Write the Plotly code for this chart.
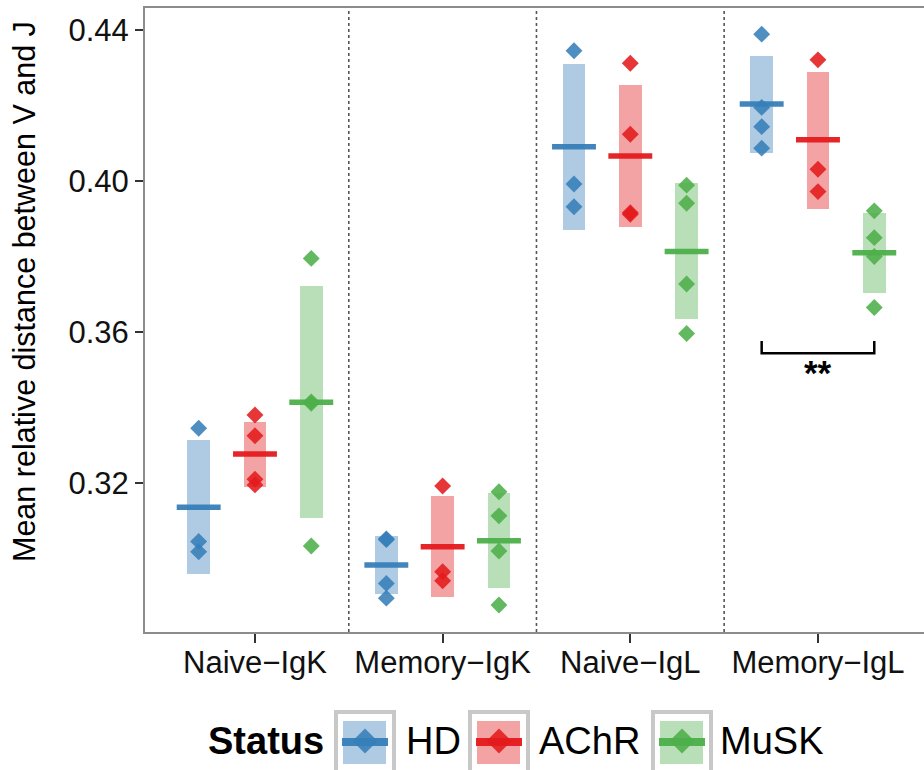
import plotly.graph_objects as go

# ---------------- data ----------------
categories = ["Naive−IgK", "Memory−IgK", "Naive−IgL", "Memory−IgL"]
statuses = ["HD", "AChR", "MuSK"]

hd_points = [
    [0.3345, 0.3045, 0.3018],
    [0.3052, 0.3050, 0.2934, 0.2895],
    [0.4345, 0.3992, 0.3932],
    [0.4389, 0.4195, 0.4144, 0.4087],
]
achr_points = [
    [0.3380, 0.3325, 0.3210, 0.3195],
    [0.3192, 0.2965, 0.2941],
    [0.4312, 0.4124, 0.3916, 0.3912],
    [0.4321, 0.4031, 0.3972],
]
musk_points = [
    [0.3795, 0.3415, 0.3411, 0.3033],
    [0.3177, 0.3113, 0.3020, 0.2877],
    [0.3989, 0.3941, 0.3727, 0.3596],
    [0.3921, 0.3850, 0.3800, 0.3665],
]

hd_mean = [0.3136, 0.2983, 0.4091, 0.4204]
hd_lo = [0.2959, 0.2905, 0.3870, 0.4075]
hd_hi = [0.3314, 0.3060, 0.4310, 0.4332]

achr_mean = [0.3277, 0.3031, 0.4066, 0.4109]
achr_lo = [0.3190, 0.2897, 0.3877, 0.3925]
achr_hi = [0.3362, 0.3166, 0.4254, 0.4290]

musk_mean = [0.3414, 0.3047, 0.3813, 0.3810]
musk_lo = [0.3106, 0.2923, 0.3634, 0.3704]
musk_hi = [0.3722, 0.3173, 0.3994, 0.3914]

y_ticks = [0.32, 0.36, 0.40, 0.44]
y_ticklabels = ["0.32", "0.36", "0.40", "0.44"]

sig_label = "**"
sig_bracket_y = 0.3544
sig_bracket_top = 0.3576
sig_text_y = 0.3493

# ---------------- styling ----------------
colors = {"HD": (55, 126, 184), "AChR": (228, 26, 28), "MuSK": (77, 175, 74)}
dodge = {"HD": -0.3, "AChR": 0.0, "MuSK": 0.3}
box_w = 0.12
mean_half = 0.117
FONT = "Liberation Sans, Arial, Helvetica, sans-serif"

def rgba(c, a):
    return "rgba(%d,%d,%d,%s)" % (c[0], c[1], c[2], a)

series = {
    "HD": (hd_points, hd_mean, hd_lo, hd_hi),
    "AChR": (achr_points, achr_mean, achr_lo, achr_hi),
    "MuSK": (musk_points, musk_mean, musk_lo, musk_hi),
}

fig = go.Figure()
cat_pos = [1, 2, 3, 4]

# boxes (mean +- sd)
for s in statuses:
    pts, mn, lo, hi = series[s]
    xs = [p + dodge[s] for p in cat_pos]
    fig.add_trace(go.Bar(
        x=xs, y=[h - l for h, l in zip(hi, lo)], base=lo, width=box_w,
        marker=dict(color=rgba(colors[s], 0.4), line=dict(width=0)),
        showlegend=False, hoverinfo="skip"))

# mean lines
for s in statuses:
    pts, mn, lo, hi = series[s]
    lx, ly = [], []
    for p, m in zip(cat_pos, mn):
        c = p + dodge[s]
        lx += [c - mean_half, c + mean_half, None]
        ly += [m, m, None]
    fig.add_trace(go.Scatter(x=lx, y=ly, mode="lines",
                             line=dict(color=rgba(colors[s], 0.95), width=5.5),
                             showlegend=False, hoverinfo="skip"))

# points
for s in statuses:
    pts, mn, lo, hi = series[s]
    px, py = [], []
    for p, vals in zip(cat_pos, pts):
        for v in vals:
            px.append(p + dodge[s])
            py.append(v)
    fig.add_trace(go.Scatter(x=px, y=py, mode="markers",
                             marker=dict(symbol="diamond", size=13,
                                         color=rgba(colors[s], 0.88),
                                         line=dict(width=0)),
                             showlegend=False, hoverinfo="skip"))

# significance bracket
x_a = 4 + dodge["HD"]
x_b = 4 + dodge["MuSK"]
fig.add_trace(go.Scatter(x=[x_a, x_a, x_b, x_b],
                         y=[sig_bracket_top, sig_bracket_y, sig_bracket_y, sig_bracket_top],
                         mode="lines", line=dict(color="black", width=2.5),
                         showlegend=False, hoverinfo="skip"))
fig.add_annotation(x=4, y=sig_text_y, text="<b>" + sig_label + "</b>", showarrow=False,
                   font=dict(family=FONT, size=35, color="black"),
                   xanchor="center", yanchor="middle")

# dotted separators
for sep in [1.5, 2.5, 3.5]:
    fig.add_shape(type="line", x0=sep, x1=sep, y0=0, y1=1, xref="x", yref="paper",
                  line=dict(color="#555555", width=1.6, dash="dot"), layer="below")

# ---------------- layout ----------------
W, H = 924, 770
L, R, T, B = 145, 924, 8, 632

def pxx(x):
    return (x - L) / (R - L)

def pxy(y):
    return (B - y) / (B - T)

fig.update_layout(
    width=W, height=H,
    margin=dict(l=L, r=W - R, t=T, b=H - B, autoexpand=False),
    paper_bgcolor="white", plot_bgcolor="white",
    barmode="overlay", bargap=0,
    font=dict(family=FONT, color="black"),
    showlegend=False,
)
fig.update_xaxes(
    range=[0.414, 4.565], tickmode="array", tickvals=cat_pos, ticktext=categories,
    ticks="outside", ticklen=9, tickwidth=2, tickcolor="#333333",
    tickfont=dict(family=FONT, size=31, color="#111111"),
    ticklabelstandoff=-7,
    showline=True, linecolor="#8c8c8c", linewidth=2, mirror=True,
    showgrid=False, zeroline=False,
)
fig.update_yaxes(
    range=[0.28053, 0.44583], tickmode="array", tickvals=y_ticks, ticktext=y_ticklabels,
    ticks="outside", ticklen=8, tickwidth=2, tickcolor="#333333",
    tickfont=dict(family=FONT, size=31, color="#111111"),
    showline=True, linecolor="#8c8c8c", linewidth=2, mirror=False,
    showgrid=False, zeroline=False,
)

# y axis title
fig.add_annotation(xref="paper", yref="paper", x=pxx(24), y=pxy(292),
                   text="Mean relative distance between V and J", textangle=-90,
                   showarrow=False, xanchor="center", yanchor="middle",
                   font=dict(family=FONT, size=30.5, color="black"))

# ---------------- custom legend ----------------
fig.add_annotation(xref="paper", yref="paper", x=pxx(326), y=pxy(741),
                   text="<b>Status</b>", showarrow=False, xanchor="right", yanchor="middle",
                   font=dict(family=FONT, size=38, color="black"))
key_left = {"HD": 336, "AChR": 470, "MuSK": 653}
text_left = {"HD": 404, "AChR": 537, "MuSK": 718}
for s in statuses:
    bx = key_left[s]
    fig.add_shape(type="rect", xref="paper", yref="paper",
                  x0=pxx(bx), x1=pxx(bx + 58), y0=pxy(712), y1=pxy(772),
                  line=dict(color="#c8c8c8", width=4), fillcolor="white")
    fig.add_shape(type="rect", xref="paper", yref="paper",
                  x0=pxx(bx + 7), x1=pxx(bx + 50), y0=pxy(721), y1=pxy(764),
                  line=dict(width=0), fillcolor=rgba(colors[s], 0.4))
    fig.add_shape(type="line", xref="paper", yref="paper",
                  x0=pxx(bx + 6), x1=pxx(bx + 52), y0=pxy(742), y1=pxy(742),
                  line=dict(color=rgba(colors[s], 0.95), width=8))
    cx, cy, hw = bx + 29, 741, 12.5
    path = "M %f,%f L %f,%f L %f,%f L %f,%f Z" % (
        pxx(cx), pxy(cy - hw), pxx(cx + hw), pxy(cy),
        pxx(cx), pxy(cy + hw), pxx(cx - hw), pxy(cy))
    fig.add_shape(type="path", xref="paper", yref="paper", path=path,
                  fillcolor=rgba(colors[s], 0.88), line=dict(width=0))
    fig.add_annotation(xref="paper", yref="paper", x=pxx(text_left[s]), y=pxy(741),
                       text=s, showarrow=False, xanchor="left", yanchor="middle",
                       font=dict(family=FONT, size=38, color="black"))

fig.write_html("out.html")
